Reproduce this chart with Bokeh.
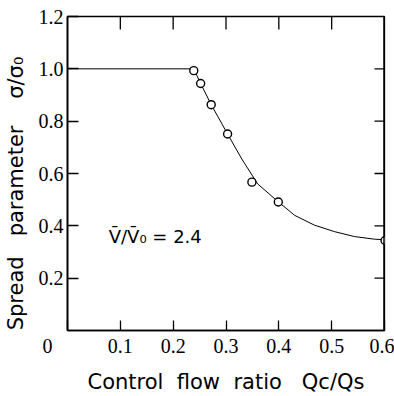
import math
from bokeh.plotting import figure
from bokeh.models import Range1d, FixedTicker, Label, ColumnDataSource, Span
from bokeh.embed import file_html
from bokeh.resources import INLINE

# ---- data ----
flow_ratio = [0.239, 0.252, 0.272, 0.303, 0.349, 0.399, 0.601]
spread = [0.993, 0.944, 0.863, 0.751, 0.567, 0.491, 0.344]

curve_x = [0.0, 0.239, 0.252, 0.272, 0.303, 0.33, 0.36, 0.40, 0.43, 0.467, 0.505, 0.543, 0.581, 0.60]
curve_y = [1.0, 1.0, 0.944, 0.863, 0.751, 0.655, 0.56, 0.49, 0.44, 0.403, 0.378, 0.359, 0.349, 0.347]

x_min, x_max = 0.0, 0.6
y_min, y_max = 0.0, 1.2
x_ticks = [0.0, 0.1, 0.2, 0.3, 0.4, 0.5, 0.6]
x_tick_labels = ["0", "0.1", "0.2", "0.3", "0.4", "0.5", "0.6"]
y_ticks = [0.2, 0.4, 0.6, 0.8, 1.0, 1.2]
y_tick_labels = ["0.2", "0.4", "0.6", "0.8", "1.0", "1.2"]
top_ticks = [0.1, 0.2, 0.3, 0.4, 0.5]
right_ticks = [0.2, 0.4, 0.6, 0.8, 1.0]

annotation = "V\u0304/V\u0304\u2080 = 2.4"
NB = "\u00a0"
x_label = "Control" + NB * 2 + "flow" + NB * 2 + "ratio" + NB * 3 + "Qc/Qs"
y_label = "Spread" + NB * 3 + "parameter" + NB * 4 + "\u03c3/\u03c3\u2080" + NB * 6

NARROW = "Liberation Sans Narrow"
SANS = "DejaVu Sans"

p = figure(width=394, height=396, output_backend="svg", toolbar_location=None,
           x_range=Range1d(x_min, x_max), y_range=Range1d(y_min, y_max),
           min_border_left=67, min_border_right=10, min_border_top=16, min_border_bottom=63)
p.background_fill_color = "white"
p.border_fill_color = "white"
p.outline_line_color = "black"
p.outline_line_width = 1.3
p.xgrid.grid_line_color = None
p.ygrid.grid_line_color = None

def style_axis(ax, ticks, labels, tick_in, lw):
    ax.ticker = FixedTicker(ticks=ticks)
    ax.major_label_overrides = {t: l for t, l in zip(ticks, labels)}
    ax.major_tick_in = tick_in
    ax.major_tick_out = 0
    ax.minor_tick_line_color = None
    ax.major_tick_line_color = "black"
    ax.major_tick_line_width = 1.3
    ax.axis_line_color = "black"
    ax.axis_line_width = lw
    ax.major_label_text_font = NARROW
    ax.major_label_text_font_size = "20px"
    ax.major_label_text_color = "black"
    ax.major_label_standoff = 4
    ax.axis_label_text_font = SANS
    ax.axis_label_text_font_size = "21px"
    ax.axis_label_text_font_style = "normal"
    ax.axis_label_text_color = "black"

# origin "0" sits left of the corner: pad it on the right
x_labels_padded = [x_tick_labels[0] + NB * 8] + x_tick_labels[1:]
style_axis(p.xaxis[0], x_ticks, x_labels_padded, 10, 1.5)
p.xaxis[0].axis_label = x_label
p.xaxis[0].axis_label_standoff = 10

style_axis(p.yaxis[0], y_ticks, y_tick_labels, 11, 1.8)
p.yaxis[0].axis_label = y_label
p.yaxis[0].axis_label_standoff = 8

# inward ticks on the top and right frame edges
p.ray(x=top_ticks, y=[y_max] * len(top_ticks), length=13, length_units="screen",
      angle=-math.pi / 2, line_color="black", line_width=1.3)
p.ray(x=[x_max] * len(right_ticks), y=right_ticks, length=10, length_units="screen",
      angle=math.pi, line_color="black", line_width=1.3)
p.add_layout(Span(location=x_max, dimension="height", line_color="black", line_width=2.5))

# curve and points
p.line(curve_x, curve_y, line_color="black", line_width=1.0)
src = ColumnDataSource(dict(x=flow_ratio, y=spread))
p.scatter("x", "y", source=src, marker="circle", size=8, fill_color="white",
          line_color="black", line_width=1.4)

# annotation
p.add_layout(Label(x=0.078, y=0.361, text=annotation, text_font=SANS, text_font_size="18px",
                   text_align="left", text_baseline="alphabetic", text_color="black"))

open("out.html", "w").write(file_html(p, INLINE))
